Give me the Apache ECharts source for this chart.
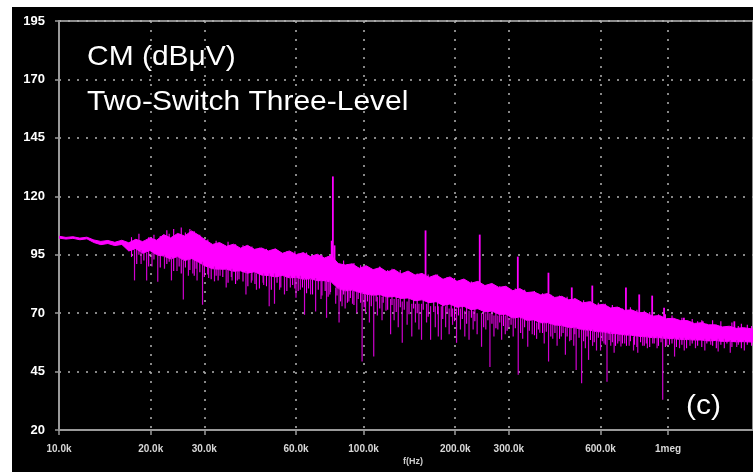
<!DOCTYPE html>
<html><head><meta charset="utf-8">
<script src="https://cdn.jsdelivr.net/npm/echarts@6/dist/echarts.min.js"></script>
<style>
html,body{margin:0;padding:0;background:#fff;width:753px;height:472px;overflow:hidden}
#chart{position:absolute;left:12px;top:7px;width:741px;height:465px;background:#000}
</style>
</head><body><div id="chart"></div>
<script>
// x tick positions (Hz) and labels
const xTickHz = [10000, 20000, 30000, 60000, 100000, 200000, 300000, 600000, 1000000];
const xTickLabels = ['10.0k', '20.0k', '30.0k', '60.0k', '100.0k', '200.0k', '300.0k', '600.0k', '1meg'];
const yTicks = [20, 45, 70, 95, 120, 145, 170, 195];

// dense noise band of the spectrum: frequency (kHz), upper and lower edge (dBuV)
const bandFreqK = [
  10.0, 10.54, 11.11, 11.71, 12.35, 13.02, 13.72, 14.47, 15.25, 16.08,
  16.95, 17.87, 18.84, 19.86, 20.93, 22.07, 23.26, 24.52, 25.85, 27.25,
  28.73, 30.29, 31.93, 33.66, 35.49, 37.41, 39.44, 41.58, 43.83, 46.21,
  48.71, 51.35, 54.14, 57.07, 60.17, 63.43, 66.87, 70.49, 74.32, 78.35,
  82.59, 87.07, 91.79, 96.77, 102.0, 107.5, 113.4, 119.5, 126.0, 132.8,
  140.0, 147.6, 155.6, 164.1, 173.0, 182.3, 192.2, 202.6, 213.6, 225.2,
  237.4, 250.3, 263.9, 278.2, 293.2, 309.1, 325.9, 343.6, 362.2, 381.8,
  402.5, 424.4, 447.4, 471.6, 497.2, 524.2, 552.6, 582.6, 614.1, 647.4,
  682.5, 719.5, 758.5, 799.7, 843.0, 888.7, 936.9, 987.7, 1041, 1098,
  1157, 1220, 1286, 1356, 1430, 1507, 1589, 1675, 1766, 1900
];
const bandHigh = [
  102.9, 102.4, 102.7, 102.1, 102.5, 101.3, 100.7, 101.1, 100.3, 101.2,
  100.1, 101.6, 100.6, 102.2, 101.2, 103.6, 102.2, 104.1, 103.0, 105.2,
  103.4, 101.2, 99.4, 100.2, 98.6, 99.5, 97.8, 99.0, 97.3, 97.9,
  96.6, 97.5, 95.6, 96.6, 95.0, 95.9, 94.2, 95.2, 93.6, 94.6,
  91.2, 90.6, 91.1, 89.2, 90.3, 88.6, 89.5, 87.6, 88.7, 86.8,
  88.0, 86.3, 87.0, 85.3, 86.4, 84.5, 85.5, 83.6, 84.6, 82.8,
  83.6, 81.8, 82.7, 81.0, 81.5, 79.6, 80.5, 78.8, 79.1, 77.8,
  78.4, 76.7, 77.2, 75.7, 76.1, 74.4, 74.9, 73.4, 73.8, 72.2,
  72.6, 71.2, 71.4, 70.2, 70.3, 68.7, 69.0, 67.6, 67.8, 66.8,
  66.8, 65.6, 65.9, 65.0, 65.0, 64.1, 64.4, 63.5, 63.8, 63.2
];
const bandLow = [
  102.1, 101.7, 102.0, 101.4, 101.8, 100.2, 99.3, 99.8, 98.9, 99.4,
  96.6, 97.6, 95.6, 96.8, 95.0, 94.4, 93.2, 94.2, 92.5, 93.3,
  91.8, 90.1, 89.0, 88.8, 88.8, 87.9, 88.1, 87.1, 87.7, 86.3,
  86.1, 85.5, 86.1, 85.1, 85.3, 84.5, 84.7, 83.9, 83.9, 83.3,
  80.5, 79.5, 79.9, 78.9, 78.1, 77.7, 77.9, 76.9, 77.1, 76.3,
  76.5, 75.3, 75.7, 74.5, 74.9, 73.3, 73.9, 72.5, 72.9, 71.5,
  71.9, 70.5, 70.9, 69.5, 69.5, 67.9, 68.3, 66.9, 67.1, 65.9,
  65.9, 64.9, 64.7, 63.9, 63.7, 62.9, 62.7, 62.1, 61.9, 61.3,
  61.1, 60.7, 60.5, 60.1, 59.9, 59.5, 59.5, 59.1, 59.1, 58.7,
  58.7, 58.5, 58.5, 58.1, 58.3, 57.9, 58.0, 57.7, 57.8, 57.6
];

// short noise strokes around the band: frequency (kHz), low and high end (dBuV)
const fuzzFreqK = [
  17.3, 18.0, 18.3, 19.0, 19.7, 20.5, 21.5, 22.6, 23.0, 23.8,
  24.8, 25.2, 26.0, 26.9, 27.8, 28.2, 29.0, 30.0, 30.8, 31.6,
  32.8, 33.3, 34.5, 35.9, 36.8, 38.0, 39.0, 40.2, 41.7, 43.0,
  44.0, 45.5, 46.8, 48.0, 49.8, 52.0, 53.5, 56.0, 58.5, 59.5,
  61.0, 63.0, 65.0, 66.0, 68.0, 71.0, 73.0, 74.8, 76.5, 77.9,
  81.8, 84.0, 86.0, 88.5, 90.5, 93.0, 96.0, 97.8, 100.5, 103,
  106, 110, 113, 116, 120, 124, 128, 132, 136, 141,
  146, 150, 157, 163, 170, 175, 182, 188, 194, 199,
  205, 211, 218, 226, 232, 248, 256, 264, 272, 280,
  288, 296, 305, 315, 328, 338, 350, 364, 375, 387,
  398, 412, 425, 440, 452, 466, 480, 494, 510, 528,
  542, 556, 572, 590, 608, 622, 640, 656, 672, 690,
  708, 730, 752, 776, 790, 812, 835, 848, 870, 900,
  930, 948, 980, 1010, 1030, 1065, 1110, 1150, 1200, 1250,
  1290, 1340, 1400, 1440, 1490, 1560, 1620, 1700, 1740, 1820,
  1880
];
const fuzzLow = [
  94, 91, 95, 92.5, 90, 93, 89.5, 91, 92, 88,
  90, 87, 89.5, 88.5, 86, 89, 87.5, 85.5, 86.5, 84.5,
  86, 84, 85.5, 83, 85.5, 82.5, 84.5, 83.5, 81.5, 84,
  82.5, 80.5, 83, 81.5, 80, 83, 81, 79.5, 82, 80.5,
  79.5, 81, 78.5, 80.5, 78, 80, 77.5, 79.5, 77, 79,
  77.5, 75, 78, 74.5, 76.5, 73.5, 76, 74.5, 72.5, 75,
  73, 75, 72, 74.5, 71.5, 73.5, 70.5, 72.5, 71.5, 69.5,
  72, 70, 71.5, 68.5, 70.5, 69.5, 67.5, 70, 68.5, 66.5,
  69, 67.5, 65.5, 68, 66.5, 64, 67, 65.5, 63.5, 66,
  64.5, 62.5, 65, 63.5, 61.5, 64, 62.5, 60.5, 63, 61.5,
  62, 60, 61.5, 59, 61.5, 60, 58.5, 61, 59.5, 58,
  60, 58.5, 57.5, 59.5, 58, 56.5, 58.5, 57.5, 56, 58,
  57, 56, 58, 56.5, 55.5, 57.5, 56, 57, 55.5, 57,
  56, 57.5, 55.5, 56.5, 57, 55.5, 56.5, 55, 57, 56,
  55.5, 57, 56, 55, 56.5, 57, 55.5, 56.5, 55, 56.5,
  56
];
const fuzzHigh = [
  102.5, 100.5, 104, 101, 102.5, 103.5, 103, 105.5, 104, 106,
  104, 106.6, 104.5, 106, 105, 102, 103.5, 100, 101.5, 99.5,
  101, 99, 99.5, 100.5, 98, 99.5, 97.5, 99, 97.5, 98.5,
  96.5, 98, 95.5, 97.5, 96, 97, 95, 96.5, 95.5, 96.5,
  95.5, 94, 96, 93.5, 95, 93, 95, 92.5, 94.5, 93.5,
  91.5, 90, 92.5, 91, 90, 91.5, 89.5, 90.5, 88.5, 90,
  89, 88, 90, 87.5, 88.5, 89, 87, 88.5, 86.5, 87.5,
  86, 87, 85.5, 86.5, 85, 86.5, 84.5, 85.5, 83.5, 85,
  83, 84, 82, 83.5, 81.5, 82, 80.5, 82.5, 80, 81.5,
  80, 81, 79, 80.5, 78.5, 80, 78, 79.5, 77.5, 78.5,
  77.5, 78, 76, 77.5, 75.5, 77, 75.5, 76.5, 74.5, 75.5,
  74.5, 75, 73, 74.5, 72.5, 74, 72.5, 73.5, 71.5, 72.5,
  72, 71, 72.5, 70, 71.5, 70, 71, 69, 70.5, 68.5,
  69.5, 68, 69.5, 67.5, 69, 66.5, 68, 66, 67.5, 66.5,
  67, 65.5, 67, 65, 66.5, 64.5, 66, 64.5, 65.5, 65,
  64.5
];

// harmonic peaks: frequency (kHz), base and tip (dBuV)
const peakFreqK = [79.3, 78.6, 80.3, 159.8, 240.7, 321, 404.7, 482.7, 563.7, 727, 803.8, 886.5, 970, 1127, 1300, 1650];
const peakBase  = [93, 92, 90, 86, 82, 78, 76, 75, 73, 71, 70, 68, 66, 65, 64, 63];
const peakTop   = [128.5, 101, 99, 105.4, 103.6, 94.2, 87.3, 81, 81.8, 81, 78, 77.5, 72.3, 68, 66.5, 66.5];

// downward dips: frequency (kHz), bottom and top (dBuV)
const dipFreqK = [
  17.7, 18.6, 19.4, 20.2, 21.1, 22.2, 23.4, 24.4, 25.6, 26.6, 27.5, 28.4, 29.6, 31.0, 32.4, 33.8, 35.4, 37.0, 38.5, 41.1,
  42.8, 44.5, 47.0, 49.0, 51.0, 53.0, 55.0, 57.5, 60.0, 62.0, 64.0, 67.0, 69.6, 72.5, 75.6, 77.5, 81.0, 83.1, 85.0, 87.0,
  89.5, 92.0, 95.0, 98.9, 101.5, 104.5, 108.0, 111, 115, 118.5, 122.7, 126, 130, 134, 139, 144, 148, 152, 155, 161,
  166, 172, 176, 180, 186, 191, 196, 202, 208, 215, 222, 229, 236, 244, 252, 260, 268, 276, 284, 292,
  300, 310, 322, 333, 346, 358, 370, 379, 392, 405, 418, 432, 446, 460, 475, 490, 499, 520, 535, 548,
  565, 582, 600, 616, 630, 648, 665, 683, 700, 720, 745, 770, 795, 825, 855, 890, 920, 960, 990, 1050,
  1090, 1130, 1180, 1230, 1320, 1380, 1460, 1530, 1600, 1680, 1780
];
const dipBottom = [
  84, 91, 84, 90, 83.4, 89, 84, 88, 75.8, 86, 87, 84, 73.6, 85, 83.6, 86, 81, 84, 84, 78,
  83, 80, 82, 73, 74, 80, 78, 81, 76.6, 80, 69.3, 78, 70.7, 76, 68, 78, 74, 66, 73, 72,
  75, 74, 70, 49.3, 70, 66, 51.4, 69, 67, 71, 61, 67, 64, 57.3, 65, 60, 66, 63, 58.6, 66,
  58.6, 64, 60, 58.6, 64, 61, 65, 57.3, 63, 60, 58.6, 63, 61, 55.6, 63, 47, 60, 63, 58.6, 61,
  64, 60, 43.6, 59, 55.6, 61, 59, 61.6, 57, 49.3, 59, 56, 60, 52.2, 58, 56, 45.7, 40, 55, 50,
  56, 54, 54, 57, 40.6, 56, 53, 57, 55.7, 57, 56, 54, 53, 56, 55, 57, 55, 32.9, 56, 51.4,
  55, 54, 56, 55, 54, 56.5, 53.6, 55, 53, 55.5, 54
];
const dipTop = [
  97, 97, 96, 96, 95, 95, 94, 94, 93, 93, 93, 92, 92, 90, 90, 89, 89, 89, 88, 88,
  87, 87, 87, 87, 87, 86, 86, 86, 86, 86, 85, 85, 85, 84, 84, 84, 81, 81, 80, 80,
  80, 80, 79, 79, 78, 78, 78, 77, 77, 77, 76, 76, 76, 75, 75, 74, 74, 74, 74, 74,
  73, 73, 73, 73, 73, 72, 72, 72, 72, 71, 71, 71, 70, 70, 70, 70, 69, 69, 69, 69,
  68, 68, 68, 68, 67, 67, 66, 66, 66, 66, 65, 65, 65, 64, 64, 64, 64, 63, 63, 63,
  63, 62, 62, 62, 62, 62, 61, 61, 61, 61, 61, 60, 60, 60, 60, 60, 60, 60, 59.5, 59.5,
  59.5, 59.5, 59, 59, 59, 59, 59, 59, 58.5, 58.5, 58.5
];

const chart = echarts.init(document.getElementById('chart'), null, {renderer: 'canvas'});
const gridLine = {color: '#b4b4b4', type: [2, 7], width: 1.5};
const axisGray = '#9a9a9a';
const font = '"Liberation Sans", Arial, sans-serif';

function strokeSeries(name, fK, a, b, color, width, z) {
  return {
    name: name, type: 'custom', clip: true, z: z,
    encode: {x: 0, y: [1, 2]},
    data: fK.map((f, i) => [f * 1000, a[i], b[i]]),
    renderItem: function (params, api) {
      const p1 = api.coord([api.value(0), api.value(1)]);
      const p2 = api.coord([api.value(0), api.value(2)]);
      return {type: 'line', shape: {x1: p1[0], y1: p1[1], x2: p2[0], y2: p2[1]},
              style: {stroke: color, lineWidth: width}};
    }
  };
}

const option = {
  backgroundColor: '#000',
  animation: false,
  grid: {left: 47, right: -2, top: 14, bottom: 42, show: true, borderColor: '#8c8c8c', borderWidth: 2, backgroundColor: 'transparent'},
  xAxis: {
    type: 'log', logBase: 10, min: 10000, max: 1900000,
    axisLine: {show: true, lineStyle: {color: axisGray, width: 2}},
    axisTick: {show: true, customValues: xTickHz, length: 5, lineStyle: {color: axisGray, width: 1.5}},
    minorTick: {show: false},
    axisLabel: {
      customValues: xTickHz, color: '#d8d8d8', fontFamily: font, fontWeight: 'bold', fontSize: 10, margin: 14,
      formatter: function (v) {
        let best = 0;
        for (let i = 1; i < xTickHz.length; i++) if (Math.abs(xTickHz[i] - v) < Math.abs(xTickHz[best] - v)) best = i;
        return xTickLabels[best];
      }
    },
    splitLine: {show: true, lineStyle: gridLine}
  },
  yAxis: {
    type: 'value', min: yTicks[0], max: yTicks[yTicks.length - 1], interval: 25,
    axisLine: {show: true, lineStyle: {color: axisGray, width: 2}},
    axisTick: {show: true, length: 4, lineStyle: {color: axisGray, width: 1.5}},
    axisLabel: {color: '#ffffff', fontFamily: font, fontWeight: 'bold', fontSize: 13, margin: 14},
    splitLine: {show: true, lineStyle: gridLine}
  },
  series: [
    {
      name: 'band', type: 'custom', clip: true, z: 3,
      encode: {x: 0, y: [1, 2]},
      data: bandFreqK.map((f, i) => [f * 1000, bandLow[i], bandHigh[i]]),
      renderItem: function (params, api) {
        if (params.dataIndex !== 0) return null;
        const pts = [];
        for (let i = 0; i < bandFreqK.length; i++) pts.push(api.coord([bandFreqK[i] * 1000, bandHigh[i]]));
        for (let i = bandFreqK.length - 1; i >= 0; i--) pts.push(api.coord([bandFreqK[i] * 1000, bandLow[i]]));
        return {type: 'polygon', shape: {points: pts},
                style: {fill: '#ff00ff', stroke: '#ff00ff', lineWidth: 1}};
      }
    },
    strokeSeries('fuzz', fuzzFreqK, fuzzLow, fuzzHigh, '#ff00ff', 1.1, 4),
    strokeSeries('dips', dipFreqK, dipBottom, dipTop, '#cf00cf', 1.2, 4),
    strokeSeries('peaks', peakFreqK, peakBase, peakTop, '#ff00ff', 1.8, 5)
  ],
  graphic: [
    {type: 'text', x: 75, y: 50, scaleX: 1.07, z: 10,
     style: {text: 'CM (dBμV)', fill: '#ffffff', font: '28px ' + font, textVerticalAlign: 'middle'}},
    {type: 'text', x: 75, y: 95, scaleX: 1.07, z: 10,
     style: {text: 'Two-Switch Three-Level', fill: '#ffffff', font: '28px ' + font, textVerticalAlign: 'middle'}},
    {type: 'text', x: 674, y: 399, scaleX: 1.07, z: 10,
     style: {text: '(c)', fill: '#ffffff', font: '28px ' + font, textVerticalAlign: 'middle'}},
    {type: 'text', x: 401, y: 455, z: 10,
     style: {text: 'f(Hz)', fill: '#cccccc', font: 'bold 9px ' + font, textAlign: 'center', textVerticalAlign: 'middle'}}
  ]
};
chart.setOption(option);
</script>
</body></html>
